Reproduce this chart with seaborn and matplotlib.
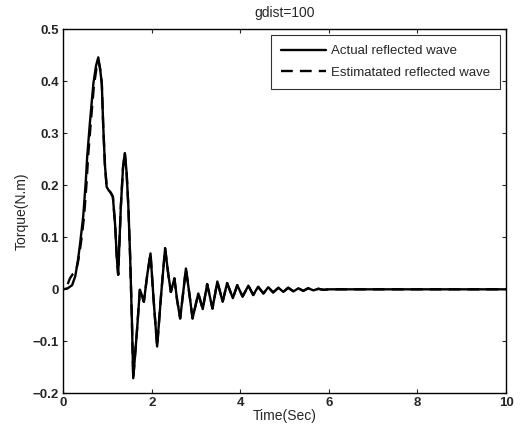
import matplotlib
matplotlib.use("Agg")
import matplotlib.pyplot as plt
import seaborn as sns
import pandas as pd

# ---- data ----
t_actual = [0.00, 0.10, 0.20, 0.27, 0.33, 0.38, 0.45, 0.51, 0.54, 0.60, 0.68, 0.74, 0.79,
            0.83, 0.87, 0.90, 0.94, 0.98, 1.02, 1.07, 1.12, 1.17, 1.21, 1.24, 1.30, 1.35,
            1.39, 1.43, 1.47, 1.51, 1.55, 1.58, 1.66, 1.73, 1.77, 1.82, 1.90, 1.97, 2.04,
            2.12, 2.21, 2.30, 2.37, 2.43, 2.51, 2.57, 2.64, 2.71, 2.77, 2.85, 2.92, 2.99,
            3.05, 3.15, 3.25, 3.37, 3.48, 3.60, 3.70, 3.83, 3.93, 4.05, 4.18, 4.29, 4.40,
            4.52, 4.63, 4.74, 4.86, 4.97, 5.08, 5.20, 5.31, 5.42, 5.53, 5.65, 5.76, 5.88,
            6.00, 10.00]
y_actual = [0.000, 0.002, 0.008, 0.025, 0.055, 0.088, 0.140, 0.210, 0.255, 0.319, 0.396, 0.430, 0.446,
            0.425, 0.396, 0.319, 0.240, 0.197, 0.191, 0.186, 0.178, 0.125, 0.060, 0.028, 0.159, 0.235,
            0.262, 0.225, 0.159, 0.063, -0.060, -0.171, -0.085, -0.001, -0.010, -0.024, 0.030, 0.069, -0.020,
            -0.110, -0.010, 0.079, 0.030, -0.005, 0.021, -0.020, -0.056, -0.005, 0.040, -0.010, -0.056, -0.030,
            -0.008, -0.038, 0.010, -0.037, 0.015, -0.024, 0.012, -0.017, 0.008, -0.014, 0.007, -0.011, 0.005,
            -0.008, 0.004, -0.006, 0.003, -0.005, 0.003, -0.004, 0.002, -0.003, 0.002, -0.002, 0.001, -0.001,
            0.000, 0.000]

t_est_start = [0.10, 0.15, 0.22, 0.29, 0.34, 0.40, 0.47, 0.53, 0.56, 0.62, 0.69, 0.75, 0.79]
y_est_start = [0.010, 0.021, 0.030, 0.037, 0.056, 0.090, 0.140, 0.210, 0.255, 0.319, 0.390, 0.425, 0.440]
join_index = 13  # estimate coincides with the actual wave from t=0.83 on
t_estimated = t_est_start + t_actual[join_index:]
y_estimated = y_est_start + y_actual[join_index:]

x_ticks = [0, 2, 4, 6, 8, 10]
x_tick_labels = ["0", "2", "4", "6", "8", "10"]
y_ticks = [-0.2, -0.1, 0.0, 0.1, 0.2, 0.3, 0.4, 0.5]
y_tick_labels = ["\u22120.2", "\u22120.1", "0", "0.1", "0.2", "0.3", "0.4", "0.5"]

title = "gdist=100"
x_label = "Time(Sec)"
y_label = "Torque(N.m)"
label_actual = "Actual reflected wave"
label_est = "Estimatated reflected wave"

# ---- plot ----
sns.set_style("ticks")
plt.rcParams["font.family"] = ["Liberation Sans", "DejaVu Sans"]

fig = plt.figure(figsize=(5.23, 4.30), dpi=100)
ax = fig.add_axes([0.121, 0.0853, 0.8465, 0.8466])

df_a = pd.DataFrame({"t": t_actual, "y": y_actual})
df_e = pd.DataFrame({"t": t_estimated, "y": y_estimated})

sns.lineplot(data=df_a, x="t", y="y", ax=ax, color="black", linewidth=1.7,
             label=label_actual, sort=False)
sns.lineplot(data=df_e, x="t", y="y", ax=ax, color="black", linewidth=1.7,
             linestyle=(0, (5, 3)), label=label_est, sort=False)

ax.set_xlim(0, 10)
ax.set_ylim(-0.2, 0.5)
ax.set_xticks(x_ticks)
ax.set_xticklabels(x_tick_labels)
ax.set_yticks(y_ticks)
ax.set_yticklabels(y_tick_labels)
ax.tick_params(direction="in", top=True, right=True, length=3, width=0.8,
               labelsize=9.5, pad=3)
for lbl in ax.get_xticklabels() + ax.get_yticklabels():
    lbl.set_fontweight("bold")
for s in ax.spines.values():
    s.set_visible(True)
    s.set_linewidth(1.0)
    s.set_color("black")

ax.set_title(title, fontsize=10, pad=9)
ax.set_xlabel(x_label, fontsize=10, labelpad=0)
ax.set_ylabel(y_label, fontsize=10, labelpad=3)

leg = ax.legend(loc="upper right", fontsize=9.5, frameon=True, fancybox=False,
                handlelength=3.4, handletextpad=0.4, borderpad=0.75,
                labelspacing=0.7, borderaxespad=0.45)
leg.get_frame().set_edgecolor("black")
leg.get_frame().set_linewidth(0.8)

fig.savefig("out.png", dpi=100)
